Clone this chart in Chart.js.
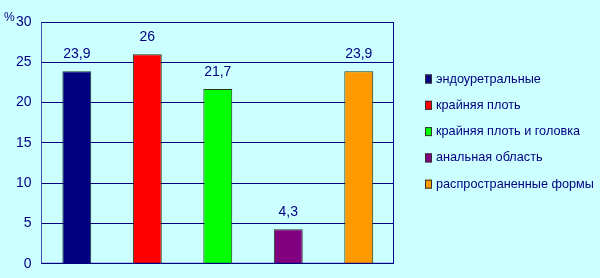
<!DOCTYPE html>
<html>
<head>
<meta charset="utf-8">
<script src="https://cdn.jsdelivr.net/npm/chart.js@4"></script>
<style>
  html, body { margin: 0; padding: 0; background: #ccffff; overflow: hidden; }
  canvas { display: block; }
</style>
</head>
<body>
<canvas id="canvas" width="600" height="278"></canvas>
<script>
var categories = ["эндоуретральные", "крайняя плоть", "крайняя плоть и головка", "анальная область", "распространенные формы"];
var values = [23.9, 26, 21.7, 4.3, 23.9];
var barColors = ["#000080", "#ff0000", "#00ff00", "#800080", "#ff9900"];
var yTicks = [0, 5, 10, 15, 20, 25, 30];

var NAVY = "#000080";
var FONT = "'Liberation Sans', Arial, sans-serif";

/* frame around plot area, "%" mark, value labels and the legend */
var extras = {
  id: "extras",
  afterDatasetsDraw: function(chart) {
    var ctx = chart.ctx, a = chart.chartArea;
    ctx.save();
    ctx.strokeStyle = NAVY;
    ctx.lineWidth = 1;
    ctx.beginPath();
    ctx.moveTo(a.left, a.top + 0.5);
    ctx.lineTo(a.right - 0.5, a.top + 0.5);
    ctx.lineTo(a.right - 0.5, a.bottom - 0.5);
    ctx.lineTo(a.left, a.bottom - 0.5);
    ctx.stroke();

    ctx.fillStyle = NAVY;
    ctx.font = "12px " + FONT;
    ctx.textAlign = "left";
    ctx.textBaseline = "middle";
    ctx.fillText("%", 4, 18);

    ctx.font = "14px " + FONT;
    ctx.textAlign = "center";
    var meta = chart.getDatasetMeta(0);
    meta.data.forEach(function(bar, i) {
      ctx.fillText(String(values[i]).replace(".", ","), bar.x, bar.y - 17);
    });

    // legend
    ctx.font = "12.7px " + FONT;
    ctx.textAlign = "left";
    var lx = a.right + 31, ly = 79;
    categories.forEach(function(c, i) {
      var y = ly + i * 26.3;
      ctx.fillStyle = barColors[i];
      ctx.fillRect(lx, y - 4.5, 7, 9);
      ctx.strokeStyle = "#333333";
      ctx.strokeRect(lx + 0.5, y - 4, 6, 8);
      ctx.fillStyle = NAVY;
      ctx.fillText(c, lx + 11, y);
    });
    ctx.restore();
  }
};

new Chart(document.getElementById("canvas").getContext("2d"), {
  type: "bar",
  data: {
    labels: categories,
    datasets: [{
      data: values,
      backgroundColor: barColors,
      borderColor: "#1a3a1a",
      borderWidth: 1,
      borderSkipped: "bottom",
      barPercentage: 0.41,
      categoryPercentage: 1
    }]
  },
  options: {
    responsive: false,
    animation: false,
    devicePixelRatio: 1,
    layout: { padding: { left: 6, top: 22, bottom: 14, right: 206 } },
    plugins: {
      tooltip: { enabled: false },
      legend: { display: false }
    },
    scales: {
      x: {
        display: false
      },
      y: {
        min: 0,
        max: 30,
        afterBuildTicks: function(axis) {
          axis.ticks = yTicks.map(function(v) { return { value: v }; });
        },
        grid: { color: NAVY, drawTicks: false },
        border: { color: "#4a4aa8" },
        ticks: {
          color: NAVY,
          padding: 10,
          font: { family: FONT, size: 14, lineHeight: 0.6 }
        }
      }
    }
  },
  plugins: [extras]
});
</script>
</body>
</html>
